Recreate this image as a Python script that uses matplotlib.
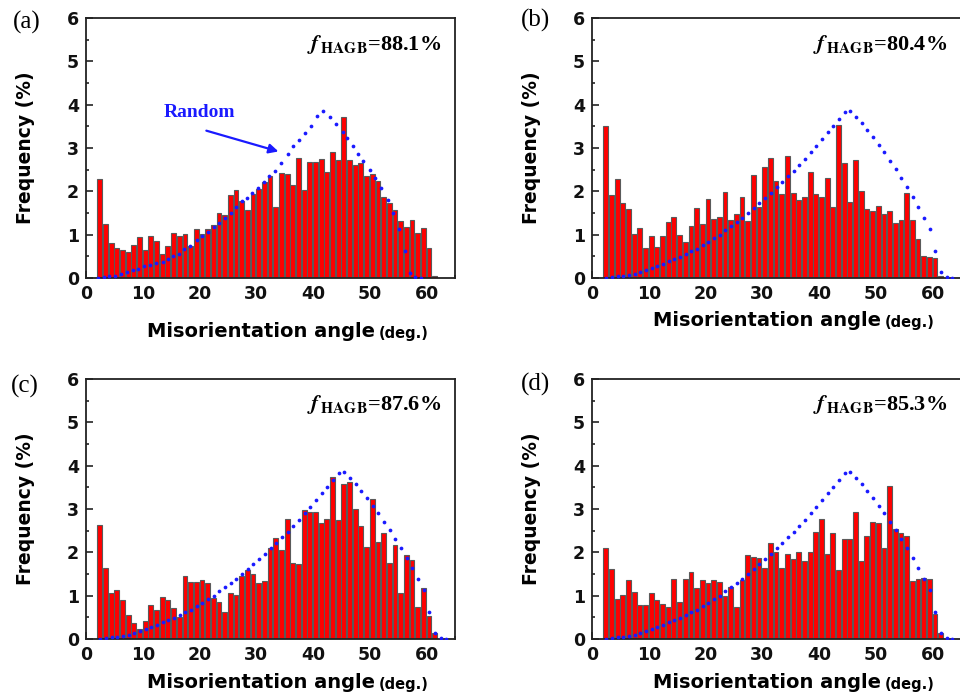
import matplotlib
matplotlib.use('Agg')
import matplotlib.pyplot as plt
from matplotlib.ticker import MultipleLocator

plt.rcParams['font.family'] = ['DejaVu Sans']
plt.rcParams['font.weight'] = 'bold'
plt.rcParams['axes.labelweight'] = 'bold'
plt.rcParams['mathtext.fontset'] = 'stix'

# ---------------- data ----------------
bin_starts = list(range(2, 62))  # 1-degree bins, left edges 2..61

freq_a = [2.28, 1.25, 0.81, 0.69, 0.64, 0.59, 0.76, 0.95, 0.64, 0.96,
          0.85, 0.55, 0.75, 1.04, 0.98, 1.01, 0.75, 1.12, 1.02, 1.12,
          1.23, 1.50, 1.45, 1.91, 2.03, 1.77, 1.56, 1.94, 2.05, 2.22,
          2.35, 1.65, 2.42, 2.40, 2.14, 2.77, 2.03, 2.67, 2.68, 2.75,
          2.45, 2.90, 2.73, 3.72, 2.72, 2.60, 2.65, 2.35, 2.40, 2.25,
          1.88, 1.72, 1.58, 1.31, 1.18, 1.35, 1.05, 1.16, 0.69, 0.04]

freq_b = [3.50, 1.91, 2.29, 1.74, 1.60, 1.02, 1.16, 0.69, 0.98, 0.72,
          0.97, 1.30, 1.41, 0.99, 0.84, 1.20, 1.61, 1.24, 1.83, 1.37,
          1.41, 1.98, 1.33, 1.47, 1.87, 1.31, 2.37, 1.64, 2.57, 2.77,
          2.24, 1.95, 2.81, 1.97, 1.79, 1.87, 2.45, 1.93, 1.87, 2.30,
          1.65, 3.54, 2.66, 1.76, 2.73, 2.00, 1.60, 1.54, 1.66, 1.47,
          1.54, 1.27, 1.34, 1.97, 1.35, 0.89, 0.50, 0.48, 0.46, 0.05]

freq_c = [2.64, 1.64, 1.06, 1.13, 0.90, 0.55, 0.36, 0.23, 0.41, 0.79,
          0.68, 0.97, 0.89, 0.72, 0.50, 1.46, 1.31, 1.31, 1.37, 1.30,
          0.95, 0.85, 0.62, 1.06, 1.01, 1.46, 1.60, 1.50, 1.30, 1.33,
          2.09, 2.34, 2.05, 2.78, 1.76, 1.73, 2.98, 2.94, 2.94, 2.68,
          2.78, 3.75, 2.74, 3.57, 3.62, 3.01, 2.61, 2.13, 3.24, 2.24,
          2.44, 1.76, 2.17, 1.06, 1.94, 1.82, 0.74, 1.18, 0.52, 0.13]

freq_d = [2.09, 1.62, 0.93, 1.01, 1.37, 1.09, 0.79, 0.79, 1.06, 0.89,
          0.81, 0.75, 1.39, 0.85, 1.39, 1.55, 1.18, 1.37, 1.30, 1.37,
          1.31, 0.99, 1.20, 0.74, 1.37, 1.94, 1.90, 1.88, 1.64, 2.21,
          2.00, 1.64, 1.96, 1.84, 2.01, 1.79, 2.00, 2.47, 2.78, 1.96,
          2.45, 1.60, 2.31, 2.31, 2.92, 1.79, 2.37, 2.71, 2.68, 2.09,
          3.52, 2.54, 2.44, 2.37, 1.35, 1.38, 1.41, 1.39, 0.58, 0.13]

# random (Mackenzie) distribution, panels b, c, d
random_x = [2.5, 3.5, 4.5, 5.5, 6.5, 7.5, 8.5, 9.5, 10.5, 11.5,
            12.5, 13.5, 14.5, 15.5, 16.5, 17.5, 18.5, 19.5, 20.5, 21.5,
            22.5, 23.5, 24.5, 25.5, 26.5, 27.5, 28.5, 29.5, 30.5, 31.5,
            32.5, 33.5, 34.5, 35.5, 36.5, 37.5, 38.5, 39.5, 40.5, 41.5,
            42.5, 43.5, 44.5, 45.5, 46.5, 47.5, 48.5, 49.5, 50.5, 51.5,
            52.5, 53.5, 54.5, 55.5, 56.5, 57.5, 58.5, 59.5, 60.5, 61.5,
            62.5, 63.5]
random_y = [0.00, 0.02, 0.04, 0.05, 0.08, 0.10, 0.13, 0.18, 0.23, 0.27,
            0.33, 0.39, 0.44, 0.49, 0.55, 0.62, 0.68, 0.76, 0.84, 0.92,
            1.00, 1.10, 1.19, 1.29, 1.39, 1.50, 1.62, 1.74, 1.85, 1.97,
            2.09, 2.22, 2.35, 2.48, 2.61, 2.75, 2.90, 3.05, 3.20, 3.36,
            3.51, 3.67, 3.82, 3.85, 3.71, 3.57, 3.41, 3.25, 3.08, 2.90,
            2.70, 2.51, 2.31, 2.10, 1.87, 1.64, 1.39, 1.14, 0.62, 0.13,
            0.02, 0.00]

# random curve as drawn in panel a
random_a_x = [2.2, 3.2, 4.1, 5.1, 6.1, 7.2, 8.2, 9.2, 10.3, 11.3,
              12.4, 13.5, 14.5, 15.4, 16.3, 17.3, 18.3, 19.5, 20.5, 21.5,
              22.5, 23.5, 24.5, 25.5, 26.5, 27.5, 28.4, 29.3, 30.3, 31.3,
              32.3, 33.3, 34.4, 35.5, 36.5, 37.5, 38.6, 39.6, 40.7, 41.8,
              42.9, 44.0, 45.2, 46.0, 47.1, 47.9, 48.8, 50.0, 50.9, 52.0,
              53.2, 54.1, 55.2, 56.2, 57.0, 58.0, 59.0]
random_a_y = [0.00, 0.02, 0.04, 0.05, 0.10, 0.13, 0.18, 0.21, 0.27, 0.31,
              0.35, 0.38, 0.44, 0.50, 0.56, 0.67, 0.75, 0.87, 0.96, 1.06,
              1.17, 1.28, 1.38, 1.50, 1.65, 1.77, 1.85, 1.96, 2.08, 2.21,
              2.35, 2.48, 2.65, 2.87, 3.04, 3.19, 3.35, 3.50, 3.75, 3.85,
              3.71, 3.56, 3.38, 3.23, 3.05, 2.87, 2.69, 2.50, 2.31, 2.08,
              1.81, 1.50, 1.12, 0.62, 0.12, 0.02, 0.00]

panel_labels = ['(a)', '(b)', '(c)', '(d)']
fhagb_values = ['88.1', '80.4', '87.6', '85.3']
x_ticks = [0, 10, 20, 30, 40, 50, 60]
y_ticks = [0, 1, 2, 3, 4, 5, 6]

# ---------------- figure ----------------
fig = plt.figure(figsize=(9.6, 7.0), dpi=100)

W, H = 960.0, 700.0
ax_w = 369 / W
ax_h = 260 / H
positions = [(86 / W, 1 - 278 / H), (592 / W, 1 - 278 / H),
             (86 / W, 1 - 639 / H), (592 / W, 1 - 639 / H)]
freqs = [freq_a, freq_b, freq_c, freq_d]
rand_xs = [random_a_x, random_x, random_x, random_x]
rand_ys = [random_a_y, random_y, random_y, random_y]
xlabel_y = [-0.205, -0.162, -0.166, -0.166]
label_pos = [(27, 22), (536, 20), (25, 386), (536, 384)]

for i in range(4):
    ax = fig.add_axes([positions[i][0], positions[i][1], ax_w, ax_h])
    ax.bar(bin_starts, freqs[i], width=0.85, align='edge',
           color='#ff0000', edgecolor='#5a5a5a', linewidth=0.8, zorder=2)
    ax.plot(rand_xs[i], rand_ys[i], linestyle='none', marker='o',
            markersize=2.7, color='#1a1aff', markeredgewidth=0, zorder=3)

    ax.set_xlim(0, 65)
    ax.set_ylim(0, 6)
    ax.set_xticks(x_ticks)
    ax.set_yticks(y_ticks)
    ax.xaxis.set_minor_locator(MultipleLocator(5))
    ax.yaxis.set_minor_locator(MultipleLocator(0.5))
    ax.tick_params(which='both', direction='in', top=False, right=False,
                   width=1.1, colors='#111111')
    ax.tick_params(which='major', length=5, labelsize=12.5, pad=5)
    ax.tick_params(which='minor', length=2.5)
    for sp in ax.spines.values():
        sp.set_linewidth(1.3)
        sp.set_color('#222222')

    ax.set_ylabel('Frequency (%)', fontsize=13.5, fontweight='bold')
    ax.yaxis.set_label_coords(-0.137, 0.5)

    t1 = ax.text(0.165, xlabel_y[i], 'Misorientation angle',
                 transform=ax.transAxes, ha='left', va='center',
                 fontsize=14, fontweight='bold')
    ax.annotate('(deg.)', xy=(1, 0), xycoords=t1, xytext=(3, 0),
                textcoords='offset points', ha='left', va='bottom',
                fontsize=10.5, fontweight='bold')

    ax.text(0.963, 0.9,
            r'$\mathbfit{f}_{\,\mathbf{HAGB}}$=' + fhagb_values[i] + '%',
            transform=ax.transAxes, ha='right', va='center', fontsize=16,
            fontweight='bold', family='Liberation Serif')

    fig.text(label_pos[i][0] / W, 1 - label_pos[i][1] / H, panel_labels[i],
             ha='center', va='center', fontsize=18, fontweight='normal',
             family='Liberation Serif')

    if i == 0:
        ax.text(20, 3.82, 'Random', ha='center', va='center', fontsize=14,
                fontweight='bold', color='#1a1aff', family='Liberation Serif')
        ax.annotate('', xy=(33.9, 2.92), xytext=(21.2, 3.40),
                    arrowprops=dict(arrowstyle='-|>', color='#1a1aff',
                                    lw=1.6, mutation_scale=14,
                                    shrinkA=0, shrinkB=0))

fig.savefig('out.png', dpi=100)
